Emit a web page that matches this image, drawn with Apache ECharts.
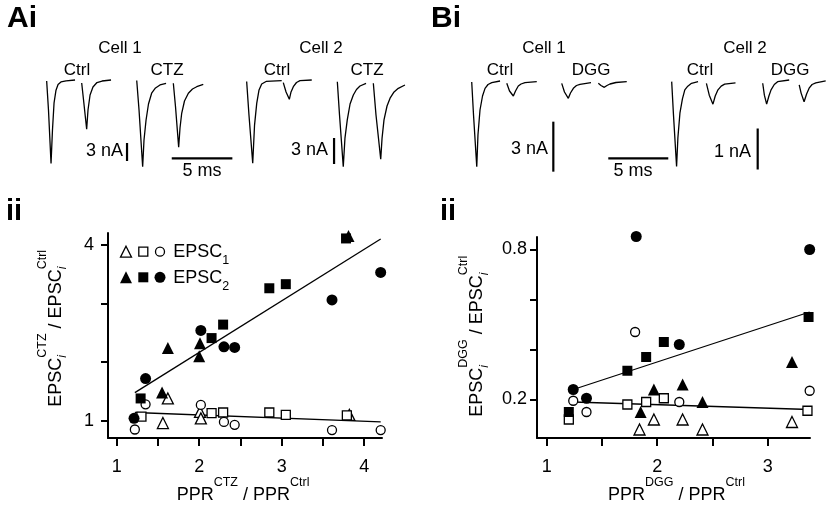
<!DOCTYPE html>
<html><head><meta charset="utf-8">
<script src="https://cdn.jsdelivr.net/npm/echarts@6.0.0/dist/echarts.min.js"></script>
<style>html,body{margin:0;padding:0;background:#fff}#c{width:827px;height:508px}</style>
</head><body><div id="c"></div>
<script>
// ---------- DATA: panel Ai traces (time ms, current nA), two EPSC segments each ----------
const a1Ctrl = [
  [[0.55,-0.17],[0.70,-5.0],[0.91,-13.9],[1.03,-8.3],[1.16,-3.8],[1.32,-1.7],[1.49,-0.75],[1.73,-0.33],[2.15,-0.13],[2.89,0]],
  [[3.44,-0.5],[3.59,-3.3],[3.85,-8.2],[3.96,-5.0],[4.13,-2.5],[4.37,-1.17],[4.70,-0.42],[5.12,-0.17],[5.86,0]]
];
const a1CTZ = [
  [[7.98,-0.08],[8.17,-5.0],[8.47,-14.45],[8.58,-10],[8.75,-6.67],[8.95,-4.0],[9.21,-2.2],[9.53,-1.33],[9.90,-0.83],[10.40,-0.55]],
  [[11.0,-0.55],[11.18,-4.45],[11.44,-11.2],[11.55,-8.0],[11.69,-5.55],[11.92,-3.5],[12.24,-2.2],[12.58,-1.5],[12.93,-1.12],[13.47,-0.72]]
];
const a1BarNA = [[7.18,-10.5],[7.18,-13.5]];
const a1BarMS = [[10.87,-13.05],[15.87,-13.05]];
const a2Ctrl = [
  [[0.55,-0.17],[0.74,-4.04],[1.05,-9.6],[1.20,-5.2],[1.38,-2.7],[1.57,-1.15],[1.79,-0.46],[2.15,-0.17],[3.44,-0.08]],
  [[3.57,-0.31],[3.80,-1.38],[4.07,-2.23],[4.21,-1.38],[4.40,-0.77],[4.66,-0.29],[4.95,-0.08],[5.92,0]]
];
const a2CTZ = [
  [[8.03,-0.2],[8.21,-4.04],[8.52,-10.0],[8.66,-6.7],[8.85,-4.6],[9.08,-2.77],[9.35,-1.73],[9.61,-1.1],[9.90,-0.69],[10.40,-0.38]],
  [[11.0,-0.38],[11.22,-4.04],[11.61,-9.15],[11.72,-6.7],[11.88,-4.6],[12.13,-3.0],[12.38,-2.1],[12.71,-1.38],[13.06,-0.96],[13.61,-0.58]]
];
const a2BarNA = [[7.76,-6.7],[7.76,-9.7]];

// ---------- DATA: panel Bi traces ----------
const b1Ctrl = [
  [[0.56,-0.12],[0.71,-2.1],[0.98,-5.2],[1.08,-3.3],[1.25,-1.8],[1.46,-0.96],[1.67,-0.5],[1.92,-0.27],[2.23,-0.16],[2.92,-0.06]],
  [[3.48,-0.2],[3.71,-0.66],[4.03,-0.96],[4.21,-0.66],[4.44,-0.36],[4.67,-0.24],[5.0,-0.16],[5.98,-0.1]]
];
const b1DGG = [
  [[8.06,-0.2],[8.29,-0.72],[8.61,-1.1],[8.79,-0.78],[9.03,-0.5],[9.29,-0.33],[9.58,-0.26],[10.5,-0.16]],
  [[11.11,-0.2],[11.33,-0.33],[11.61,-0.44],[11.83,-0.33],[12.08,-0.24],[12.58,-0.15],[13.48,-0.1]]
];
const b1BarNA = [[7.36,-2.5],[7.36,-5.5]];
const b1BarMS = [[11.94,-4.7],[16.94,-4.7]];
const b2Ctrl = [
  [[0.98,-0.04],[1.13,-0.85],[1.39,-2.11],[1.5,-1.41],[1.67,-0.81],[1.88,-0.46],[2.08,-0.24],[2.33,-0.15],[2.64,-0.08],[3.19,-0.04]],
  [[3.89,-0.08],[4.13,-0.37],[4.44,-0.59],[4.63,-0.39],[4.86,-0.24],[5.13,-0.15],[5.42,-0.1],[6.33,-0.07]]
];
const b2DGG = [
  [[8.61,-0.08],[8.75,-0.37],[8.94,-0.59],[9.13,-0.39],[9.31,-0.24],[9.58,-0.11],[9.86,-0.04],[10.83,0]],
  [[11.67,-0.12],[11.83,-0.32],[12.08,-0.53],[12.29,-0.34],[12.5,-0.2],[12.75,-0.11],[13.06,-0.07],[13.89,-0.02]]
];
const b2BarNA = [[8.19,-1.18],[8.19,-2.18]];

// ---------- DATA: panel Aii scatter (PPR ratio, EPSC ratio) ----------
const ctzE2Tri  = [[3.81,4.15],[2.01,2.32],[1.62,2.24],[2.00,2.10],[1.55,1.48]];
const ctzE2Sq   = [[3.78,4.11],[2.85,3.26],[3.05,3.33],[2.29,2.64],[2.15,2.41],[1.29,1.38]];
const ctzE2Circ = [[4.20,3.53],[3.61,3.06],[2.02,2.54],[2.30,2.26],[2.43,2.25],[1.35,1.72],[1.21,1.04]];
const ctzE1Tri  = [[1.62,1.38],[1.56,0.96],[2.01,1.15],[2.02,1.04],[3.82,1.10]];
const ctzE1Sq   = [[1.30,1.07],[2.15,1.13],[2.29,1.14],[2.85,1.14],[3.05,1.10],[3.79,1.09]];
const ctzE1Circ = [[1.35,1.28],[1.22,0.85],[2.02,1.27],[2.30,0.98],[2.43,0.93],[3.61,0.84],[4.20,0.84]];
const ctzFitE2 = [[1.22,1.48],[4.20,4.10]];
const ctzFitE1 = [[1.22,1.14],[4.20,0.98]];
const ctzXTicks = [1,1.5,2,2.5,3,3.5,4];
const ctzXLabels = [1,2,3,4];
const ctzYTicks = [1,2,3,4];
const ctzYLabels = [1,4];

// ---------- DATA: panel Bii scatter ----------
const dggE2Circ = [[1.81,0.852],[3.38,0.80],[2.20,0.42],[1.24,0.24],[1.36,0.205]];
const dggE2Sq   = [[3.37,0.53],[2.06,0.43],[1.90,0.37],[1.73,0.315],[1.20,0.15]];
const dggE2Tri  = [[3.22,0.35],[2.23,0.26],[1.97,0.24],[2.41,0.19],[1.85,0.15]];
const dggE1Circ = [[1.80,0.47],[3.38,0.235],[1.24,0.195],[1.36,0.15],[2.20,0.19]];
const dggE1Sq   = [[1.73,0.18],[1.90,0.19],[2.06,0.205],[1.20,0.12],[3.36,0.155]];
const dggE1Tri  = [[1.97,0.12],[2.23,0.12],[3.22,0.11],[1.84,0.08],[2.41,0.08]];
const dggFitE2 = [[1.24,0.24],[3.38,0.55]];
const dggFitE1 = [[1.24,0.19],[3.38,0.16]];
const dggXTicks = [1,1.5,2,2.5,3];
const dggXLabels = [1,2,3];
const dggYTicks = [0.2,0.4,0.6,0.8];
const dggYLabels = [0.2,0.8];

// ---------- build ----------
const FONT = '"Liberation Sans", Arial, Helvetica, sans-serif';
const chart = echarts.init(document.getElementById('c'), null, {renderer:'canvas'});

const mctx = document.createElement('canvas').getContext('2d');
function tw(text, size, italic, bold){
  mctx.font = (italic?'italic ':'') + (bold?'bold ':'') + size + 'px ' + FONT;
  return mctx.measureText(text).width;
}
function txt(text, x, y, size, opts){
  opts = opts || {};
  return {type:'text', x:x, y:y, silent:true, style:{text:text, fontSize:size, fontFamily:FONT,
    fontWeight: opts.bold?'bold':'normal', fontStyle: opts.italic?'italic':'normal', fill:'#000',
    textAlign: opts.align||'left', textVerticalAlign:'middle', align: opts.align||'left', verticalAlign:'middle'}};
}
// tokens: {t,size,dy,italic} or {stack:[tok,tok]}
function composite(tokens, x, y, rotation){
  const children = []; let cx = 0;
  tokens.forEach(tok => {
    const list = tok.stack ? tok.stack : [tok];
    let w = 0;
    list.forEach(k => {
      children.push(txt(k.t, cx, k.dy||0, k.size, {italic:k.italic}));
      w = Math.max(w, tw(k.t, k.size, k.italic));
    });
    cx += w;
  });
  return {type:'group', x:x, y:y, rotation:rotation||0, children:children};
}

const grids = [], xAxes = [], yAxes = [], series = [];
function traceGrid(box, xmax, ymin, ymax){
  const i = grids.length;
  grids.push(Object.assign({containLabel:false}, box));
  xAxes.push({gridIndex:i, type:'value', min:0, max:xmax, show:false});
  yAxes.push({gridIndex:i, type:'value', min:ymin, max:ymax, show:false});
  return i;
}
function addLine(i, data, width){
  series.push({type:'line', xAxisIndex:i, yAxisIndex:i, data:data, showSymbol:false, symbol:'none',
    clip:false, silent:true, lineStyle:{color:'#000', width:width||1.3, opacity:1}, z:3});
}
function addTrace(i, segs){ segs.forEach(s => addLine(i, s, 1.3)); }

const gA1 = traceGrid({left:40, top:74, width:200, height:102}, 16.5, -16, 1);
addTrace(gA1, a1Ctrl); addTrace(gA1, a1CTZ); addLine(gA1, a1BarNA, 2.2); addLine(gA1, a1BarMS, 2.2);
const gA2 = traceGrid({left:240, top:71.33, width:180, height:104}, 14.85, -11, 1);
addTrace(gA2, a2Ctrl); addTrace(gA2, a2CTZ); addLine(gA2, a2BarNA, 2.2);
const gB1 = traceGrid({left:465, top:71.67, width:210, height:108.33}, 17.5, -6, 0.5);
addTrace(gB1, b1Ctrl); addTrace(gB1, b1DGG); addLine(gB1, b1BarNA, 2.2); addLine(gB1, b1BarMS, 2.2);
const gB2 = traceGrid({left:660, top:71.8, width:168, height:110.7}, 14, -2.5, 0.2);
addTrace(gB2, b2Ctrl); addTrace(gB2, b2DGG); addLine(gB2, b2BarNA, 2.2);

function scatterGrid(box, xr, yr, xt, xl, yt, yl, ylMargin){
  const i = grids.length;
  grids.push(Object.assign({containLabel:false}, box));
  const axLine = {show:true, onZero:false, lineStyle:{color:'#000', width:2}};
  const lab = {color:'#000', fontSize:18, fontFamily:FONT};
  xAxes.push({gridIndex:i, type:'value', min:xr[0], max:xr[1],
    axisLine:axLine, splitLine:{show:false},
    axisTick:{show:true, customValues:xt, length:8, lineStyle:{color:'#000', width:2}},
    axisLabel:Object.assign({show:true, customValues:xl, margin:20, formatter:v=>String(v)}, lab)});
  yAxes.push({gridIndex:i, type:'value', min:yr[0], max:yr[1],
    axisLine:axLine, splitLine:{show:false},
    axisTick:{show:true, customValues:yt, length:7, lineStyle:{color:'#000', width:2}},
    axisLabel:Object.assign({show:true, customValues:yl, margin:ylMargin, formatter:v=>String(v)}, lab)});
  return i;
}
function addScatter(i, data, symbol, size, filled){
  series.push({type:'scatter', xAxisIndex:i, yAxisIndex:i, data:data, symbol:symbol, symbolSize:size,
    clip:false, silent:true, z: filled?5:4,
    itemStyle: filled ? {color:'#000', borderColor:'#000', borderWidth:0, opacity:1}
                      : {color:'#fff', borderColor:'#000', borderWidth:1.3, opacity:1}});
}

const gAS = scatterGrid({left:108, top:233, width:274, height:205}, [0.8945,4.216], [0.705,4.203],
  ctzXTicks, ctzXLabels, ctzYTicks, ctzYLabels, 14);
addLine(gAS, ctzFitE2, 1.3); addLine(gAS, ctzFitE1, 1.3);
addScatter(gAS, ctzE1Tri, 'triangle', 11, false);
addScatter(gAS, ctzE1Sq, 'rect', 9, false);
addScatter(gAS, ctzE1Circ, 'circle', 9, false);
addScatter(gAS, ctzE2Tri, 'triangle', 12, true);
addScatter(gAS, ctzE2Sq, 'rect', 10, true);
addScatter(gAS, ctzE2Circ, 'circle', 11, true);

const gBS = scatterGrid({left:537, top:237, width:273, height:201}, [0.912,3.383], [0.046,0.85],
  dggXTicks, dggXLabels, dggYTicks, dggYLabels, 10);
addLine(gBS, dggFitE2, 1.3); addLine(gBS, dggFitE1, 1.3);
addScatter(gBS, dggE1Tri, 'triangle', 11, false);
addScatter(gBS, dggE1Sq, 'rect', 9, false);
addScatter(gBS, dggE1Circ, 'circle', 9, false);
addScatter(gBS, dggE2Tri, 'triangle', 12, true);
addScatter(gBS, dggE2Sq, 'rect', 10, true);
addScatter(gBS, dggE2Circ, 'circle', 11, true);

// ---------- annotations ----------
const g = [];
g.push(txt('Ai', 7, 18.5, 30, {bold:true}));
g.push(txt('Bi', 431, 18.5, 30, {bold:true}));
g.push(txt('ii', 6, 212, 29, {bold:true}));
g.push(txt('ii', 440, 212, 29, {bold:true}));
[['Cell 1',120,48],['Cell 2',321,48],['Ctrl',77,70.5],['CTZ',167,70.5],['Ctrl',277,70.5],['CTZ',367,70.5],
 ['Cell 1',544,48],['Cell 2',745,48],['Ctrl',500,70.5],['DGG',591,70.5],['Ctrl',700,70.5],['DGG',790,70.5]]
 .forEach(a => g.push(txt(a[0], a[1], a[2], 17, {align:'center'})));
g.push(txt('3 nA', 123, 151, 18, {align:'right'}));
g.push(txt('3 nA', 328, 150, 18, {align:'right'}));
g.push(txt('5 ms', 202, 171.5, 18, {align:'center'}));
g.push(txt('3 nA', 548, 149, 18, {align:'right'}));
g.push(txt('1 nA', 751, 152.5, 18, {align:'right'}));
g.push(txt('5 ms', 633, 171.5, 18, {align:'center'}));

// axis titles
const F = 18, f = 12.5;
g.push(composite([{t:'PPR',size:F},{t:'CTZ',size:f,dy:-12.5},{t:' / PPR',size:F},{t:'Ctrl',size:f,dy:-12.5}], 176.7, 495.5, 0));
g.push(composite([{t:'PPR',size:F},{t:'DGG',size:f,dy:-12.5},{t:' / PPR',size:F},{t:'Ctrl',size:f,dy:-12.5}], 608, 495.5, 0));
g.push(composite([{t:'EPSC',size:F},{stack:[{t:'CTZ',size:f,dy:-13.5},{t:'i',size:f,dy:7,italic:true}]},
  {t:' / EPSC',size:F},{stack:[{t:'Ctrl',size:f,dy:-13.5},{t:'i',size:f,dy:7,italic:true}]}], 56, 406.7, Math.PI/2));
g.push(composite([{t:'EPSC',size:F},{stack:[{t:'DGG',size:f,dy:-13.5},{t:'i',size:f,dy:7,italic:true}]},
  {t:' / EPSC',size:F},{stack:[{t:'Ctrl',size:f,dy:-13.5},{t:'i',size:f,dy:7,italic:true}]}], 477.5, 416.7, Math.PI/2));

// legend (panel Aii)
function tri(cx, cy, s, filled){
  return {type:'polygon', silent:true, shape:{points:[[cx,cy-s/2],[cx+s/2,cy+s/2],[cx-s/2,cy+s/2]]},
    style:{fill: filled?'#000':'#fff', stroke:'#000', lineWidth: filled?0:1.3}};
}
function sq(cx, cy, s, filled){
  return {type:'rect', silent:true, shape:{x:cx-s/2, y:cy-s/2, width:s, height:s},
    style:{fill: filled?'#000':'#fff', stroke:'#000', lineWidth: filled?0:1.3}};
}
function circ(cx, cy, s, filled){
  return {type:'circle', silent:true, shape:{cx:cx, cy:cy, r:s/2},
    style:{fill: filled?'#000':'#fff', stroke:'#000', lineWidth: filled?0:1.3}};
}
g.push(tri(126, 251.7, 11, false), sq(143.3, 251.7, 9, false), circ(160, 251.7, 9, false));
g.push(tri(126, 277.3, 12, true), sq(143.3, 277.3, 10, true), circ(160, 277.3, 11, true));
g.push(composite([{t:'EPSC',size:F},{t:'1',size:f,dy:8.5}], 173.3, 252.5, 0));
g.push(composite([{t:'EPSC',size:F},{t:'2',size:f,dy:8.5}], 173.3, 278, 0));

chart.setOption({
  animation:false,
  backgroundColor:'#fff',
  textStyle:{fontFamily:FONT},
  grid:grids, xAxis:xAxes, yAxis:yAxes, series:series,
  graphic:{elements:g}
});
</script></body></html>
